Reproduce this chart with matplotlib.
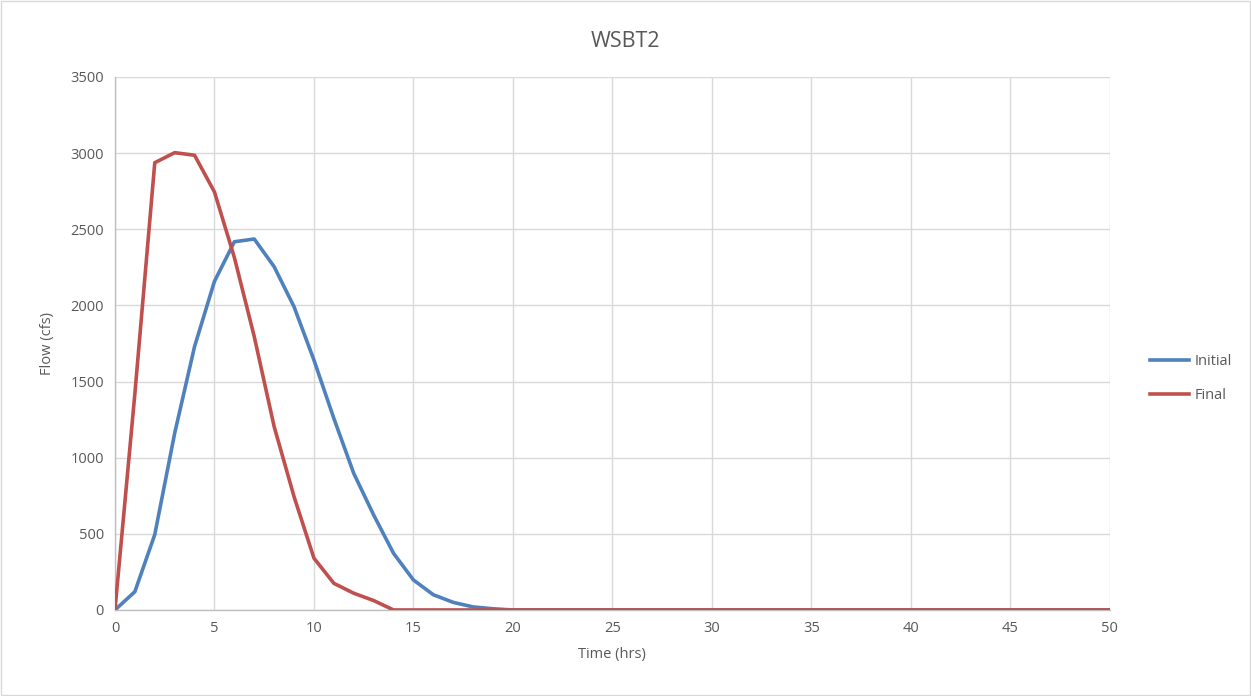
import numpy as np
import matplotlib.pyplot as plt

# ****** Data ******
hours = list(range(0, 51))
initial_flow = [0, 120, 495, 1160, 1730, 2158, 2418, 2436, 2254, 1991,
                1641, 1258, 897, 624, 372, 197, 100, 50, 20, 8,
                0, 0, 0, 0, 0, 0, 0, 0, 0, 0,
                0, 0, 0, 0, 0, 0, 0, 0, 0, 0,
                0, 0, 0, 0, 0, 0, 0, 0, 0, 0, 0]
final_flow = [0, 1420, 2937, 3003, 2986, 2745, 2315, 1795, 1204, 744,
              340, 175, 110, 62, 0, 0, 0, 0, 0, 0,
              0, 0, 0, 0, 0, 0, 0, 0, 0, 0,
              0, 0, 0, 0, 0, 0, 0, 0, 0, 0,
              0, 0, 0, 0, 0, 0, 0, 0, 0, 0, 0]
x_ticks = list(range(0, 51, 5))
y_ticks = list(range(0, 3501, 500))

# ****** Plot ******
plt.rcParams['font.family'] = ['Open Sans', 'DejaVu Sans']
text_color = '#595959'
grid_color = '#D9D9D9'

fig = plt.figure(figsize=(12.51, 6.96), dpi=100)
ax = fig.add_axes([0.0919, 0.1236, 0.7953, 0.7658])

ax.plot(hours, initial_flow, color='#4F81BD', linewidth=2.6, label='Initial',
        solid_joinstyle='round', zorder=3)
ax.plot(hours, final_flow, color='#C0504D', linewidth=2.6, label='Final',
        solid_joinstyle='round', zorder=3)

ax.set_xlim(0, 50)
ax.set_ylim(0, 3500)
ax.set_xticks(x_ticks)
ax.set_yticks(y_ticks)
ax.tick_params(length=0, labelsize=10.5, labelcolor=text_color, pad=8)
ax.grid(color=grid_color, linewidth=1)
ax.set_axisbelow(True)
for side in ['top', 'right']:
    ax.spines[side].set_visible(False)
for side in ['left', 'bottom']:
    ax.spines[side].set_color('#BFBFBF')
    ax.spines[side].set_linewidth(1)

ax.set_xlabel('Time (hrs)', fontsize=10.5, color=text_color, labelpad=8)
ax.set_ylabel('Flow (cfs)', fontsize=10.5, color=text_color, labelpad=11)
fig.text(0.5, 0.941, 'WSBT2', ha='center', va='center', fontsize=15.5, color=text_color)

leg = ax.legend(loc='center left', bbox_to_anchor=(1.027, 0.434), frameon=False,
                fontsize=10.5, handlelength=2.7, labelspacing=1.3, handletextpad=0.4)
for t in leg.get_texts():
    t.set_color(text_color)

# outer border
fig.patches.append(plt.Rectangle((0.001, 0.001), 0.998, 0.997, transform=fig.transFigure,
                                 fill=False, edgecolor='#D9D9D9', linewidth=1))

fig.savefig('out.png', dpi=100)
